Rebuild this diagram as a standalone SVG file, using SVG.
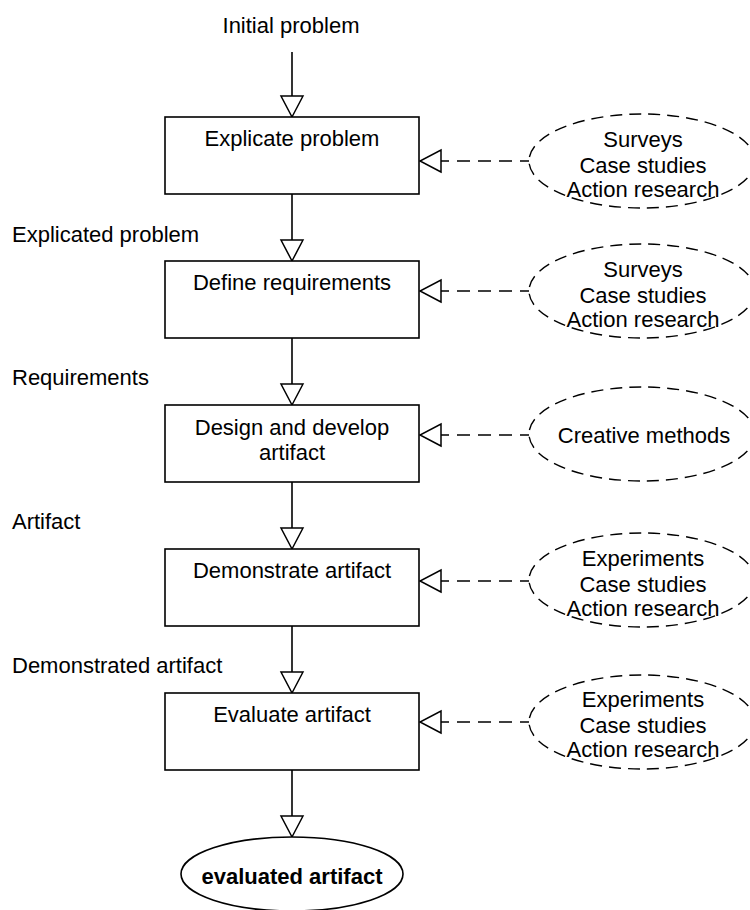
<svg xmlns="http://www.w3.org/2000/svg" width="750" height="910" viewBox="0 0 750 910">
<style>
text{font-family:"Liberation Sans",Arial,sans-serif;font-size:22px;fill:#000}
.c{text-anchor:middle}
.box{fill:#fff;stroke:#000;stroke-width:1.6}
.meth{fill:#fff;stroke:#000;stroke-width:1.4;stroke-dasharray:12 7}
.flow{stroke:#000;stroke-width:1.6;fill:none;marker-end:url(#tri)}
.dash{stroke:#000;stroke-width:1.4;fill:none;stroke-dasharray:13 8;stroke-dashoffset:4;marker-end:url(#tri)}
</style>
<defs>
<marker id="tri" markerUnits="userSpaceOnUse" viewBox="-2 -2 25 26" markerWidth="25" markerHeight="26" refX="21" refY="11" orient="auto">
<path d="M0,0 L21,11 L0,22 Z" fill="#fff" stroke="#000" stroke-width="1.5" stroke-dasharray="none"/>
</marker>
</defs>
<rect width="750" height="910" fill="#fff"/>
<g id="connectors">
<path class="flow" d="M292,52 V117"/>
<path class="flow" d="M292,194 V261"/>
<path class="flow" d="M292,338 V405"/>
<path class="flow" d="M292,482 V549"/>
<path class="flow" d="M292,626 V693"/>
<path class="flow" d="M292,770 V837"/>
<path class="dash" d="M529,161 H420"/>
<path class="dash" d="M529,291 H420"/>
<path class="dash" d="M529,435 H420"/>
<path class="dash" d="M529,581 H420"/>
<path class="dash" d="M529,722 H420"/>
</g>
<g id="label-initial"><text class="c" x="291" y="33">Initial problem</text></g>
<g id="label-explicated"><text x="12" y="242">Explicated problem</text></g>
<g id="label-requirements"><text x="12" y="385">Requirements</text></g>
<g id="label-artifact"><text x="12" y="529">Artifact</text></g>
<g id="label-demonstrated"><text x="12" y="673">Demonstrated artifact</text></g>
<g id="explicate"><rect class="box" x="165" y="117" width="254" height="77"/><text class="c" x="292" y="146">Explicate problem</text></g>
<g id="define"><rect class="box" x="165" y="261" width="254" height="77"/><text class="c" x="292" y="290">Define requirements</text></g>
<g id="design"><rect class="box" x="165" y="405" width="254" height="77"/><text class="c" x="292" y="435">Design and develop</text><text class="c" x="292" y="460">artifact</text></g>
<g id="demonstrate"><rect class="box" x="165" y="549" width="254" height="77"/><text class="c" x="292" y="578">Demonstrate artifact</text></g>
<g id="evaluate"><rect class="box" x="165" y="693" width="254" height="77"/><text class="c" x="292" y="722">Evaluate artifact</text></g>
<g id="m1"><ellipse class="meth" cx="642" cy="161" rx="113" ry="47"/><text class="c" x="643" y="147">Surveys</text><text class="c" x="643" y="173">Case studies</text><text class="c" x="643" y="197">Action research</text></g>
<g id="m2"><ellipse class="meth" cx="642" cy="291" rx="113" ry="47"/><text class="c" x="643" y="277">Surveys</text><text class="c" x="643" y="303">Case studies</text><text class="c" x="643" y="327">Action research</text></g>
<g id="m3"><ellipse class="meth" cx="642" cy="434" rx="113" ry="47"/><text class="c" x="644" y="443">Creative methods</text></g>
<g id="m4"><ellipse class="meth" cx="642" cy="580" rx="113" ry="47"/><text class="c" x="643" y="566">Experiments</text><text class="c" x="643" y="592">Case studies</text><text class="c" x="643" y="616">Action research</text></g>
<g id="m5"><ellipse class="meth" cx="642" cy="722" rx="113" ry="47"/><text class="c" x="643" y="707">Experiments</text><text class="c" x="643" y="733">Case studies</text><text class="c" x="643" y="757">Action research</text></g>
<g id="result"><ellipse fill="#fff" stroke="#000" stroke-width="1.6" cx="292" cy="874" rx="111" ry="37"/><text class="c" x="292" y="884" font-weight="bold">evaluated artifact</text></g>
</svg>
